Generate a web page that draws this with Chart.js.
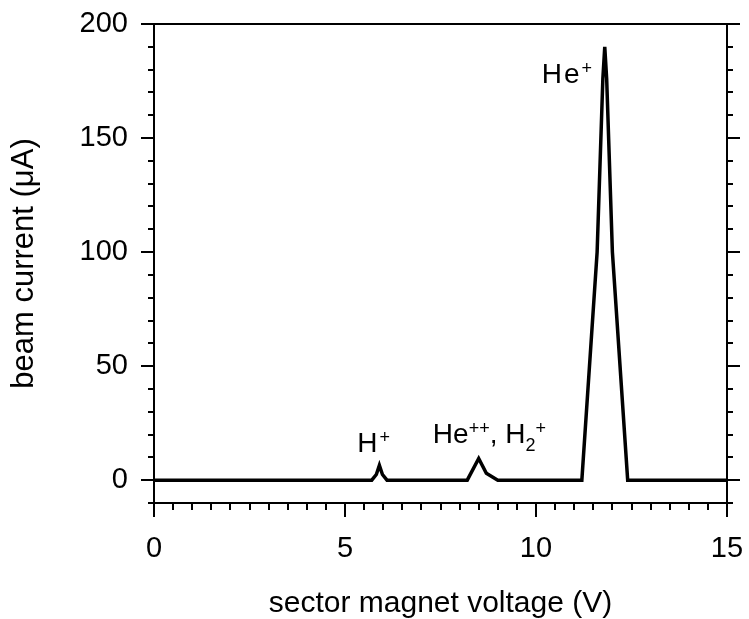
<!DOCTYPE html>
<html>
<head>
<meta charset="utf-8">
<script src="https://cdn.jsdelivr.net/npm/chart.js@4.4.0/dist/chart.umd.min.js"></script>
<style>
  html, body { margin: 0; padding: 0; background: #fff; }
  #wrap { width: 749px; height: 619px; }
</style>
</head>
<body>
<div id="wrap"><canvas id="beamChart" width="749" height="619"></canvas></div>
<script>
// Giá trị (sector magnet voltage -> beam current)
const voltage = [0, 5.7, 5.82, 5.9, 5.98, 6.1, 8.2, 8.5, 8.7, 9.0, 11.2, 11.6, 11.75, 11.8, 11.85, 12.0, 12.4, 15];
const current = [0, 0, 2.5, 6.5, 2.5, 0, 0, 9.5, 3, 0, 0, 100, 176, 190, 176, 100, 0, 0];
const xTicks = [0, 5, 10, 15];
const yTicks = [0, 50, 100, 150, 200];

const FONT = "'Liberation Sans', Arial, Helvetica, sans-serif";

// Khung + vạch chia (chính và phụ)
const frameAxes = {
    id: 'frameAxes',
    afterDatasetsDraw(chart) {
        const { ctx, chartArea: a, scales: { x, y } } = chart;
        ctx.save();
        ctx.strokeStyle = '#000';
        ctx.lineWidth = 2;
        ctx.beginPath();
        ctx.rect(a.left, a.top, a.right - a.left, a.bottom - a.top);
        for (let v = y.min; v <= y.max + 1e-6; v += 10) {
            const py = Math.round(y.getPixelForValue(v));
            const len = v % 50 === 0 ? 13 : 6;
            ctx.moveTo(a.left - len, py); ctx.lineTo(a.left, py);
            ctx.moveTo(a.right, py); ctx.lineTo(a.right + len, py);
        }
        for (let v = x.min; v <= x.max + 1e-6; v += 0.5) {
            const px = Math.round(x.getPixelForValue(v));
            const len = v % 5 === 0 ? 14 : 7;
            ctx.moveTo(px, a.bottom); ctx.lineTo(px, a.bottom + len);
        }
        ctx.stroke();
        ctx.restore();
    }
};

// Nhãn các đỉnh (chỉ số trên / dưới)
const peakLabels = [
    { x: 10.15, y: 174, gap: 2, parts: [['He', 0], ['+', 1]] },
    { x: 5.32, y: 12.4, gap: 2, parts: [['H', 0], ['+', 1]] },
    { x: 7.30, y: 16.1, gap: 0, parts: [['He', 0], ['++', 1], [', H', 0], ['2', -1], ['+', 1]] }
];

const peakNotes = {
    id: 'peakNotes',
    afterDatasetsDraw(chart) {
        const { ctx, scales: { x, y } } = chart;
        ctx.save();
        ctx.fillStyle = '#000';
        ctx.textBaseline = 'alphabetic';
        ctx.textAlign = 'left';
        peakLabels.forEach(lbl => {
            ctx.letterSpacing = lbl.gap + 'px';
            let px = x.getPixelForValue(lbl.x);
            const py = y.getPixelForValue(lbl.y);
            lbl.parts.forEach(([txt, kind]) => {
                ctx.font = (kind === 0 ? 28 : 18) + 'px ' + FONT;
                const dy = kind === 1 ? -9 : kind === -1 ? 8 : 0;
                ctx.fillText(txt, px, py + dy);
                px += ctx.measureText(txt).width;
            });
        });
        ctx.restore();
    }
};

// bỏ phần đệm tự động của nhãn trục để vùng vẽ khớp hình gốc
const noPad = s => { s.paddingLeft = 0; s.paddingRight = 0; s.paddingTop = 0; s.paddingBottom = 0; };

const ctx = document.getElementById('beamChart').getContext('2d');

const beamChart = new Chart(ctx, {
    type: 'line',
    data: {
        datasets: [{
            data: voltage.map((v, i) => ({ x: v, y: current[i] })),
            borderColor: '#000',
            borderWidth: 3.5,
            pointRadius: 0,
            tension: 0,
            fill: false
        }]
    },
    options: {
        responsive: false,
        animation: false,
        devicePixelRatio: 1,
        layout: { padding: { top: 24, right: 22, left: 0, bottom: 0 } },
        plugins: {
            legend: { display: false },
            tooltip: { enabled: false }
        },
        scales: {
            x: {
                type: 'linear',
                min: 0,
                max: 15,
                afterBuildTicks: s => { s.ticks = xTicks.map(v => ({ value: v })); },
                afterFit: s => { s.height = 116; noPad(s); },
                grid: { display: false, drawTicks: false },
                border: { display: false },
                ticks: { color: '#000', font: { family: FONT, size: 29 }, padding: 29, maxRotation: 0 },
                title: {
                    display: true,
                    text: 'sector magnet voltage (V)',
                    color: '#000',
                    font: { family: FONT, size: 30, lineHeight: 1 },
                    padding: { top: 0, bottom: 0 }
                }
            },
            y: {
                type: 'linear',
                min: -10,
                max: 200,
                afterBuildTicks: s => { s.ticks = yTicks.map(v => ({ value: v })); },
                afterFit: s => { s.width = 154; noPad(s); },
                grid: { display: false, drawTicks: false },
                border: { display: false },
                ticks: { color: '#000', font: { family: FONT, size: 29 }, padding: 26 },
                title: {
                    display: true,
                    text: 'beam current (μA)',
                    color: '#000',
                    font: { family: FONT, size: 31, lineHeight: 1 },
                    padding: { top: 9, bottom: 0 }
                }
            }
        }
    },
    plugins: [frameAxes, peakNotes]
});
</script>
</body>
</html>
